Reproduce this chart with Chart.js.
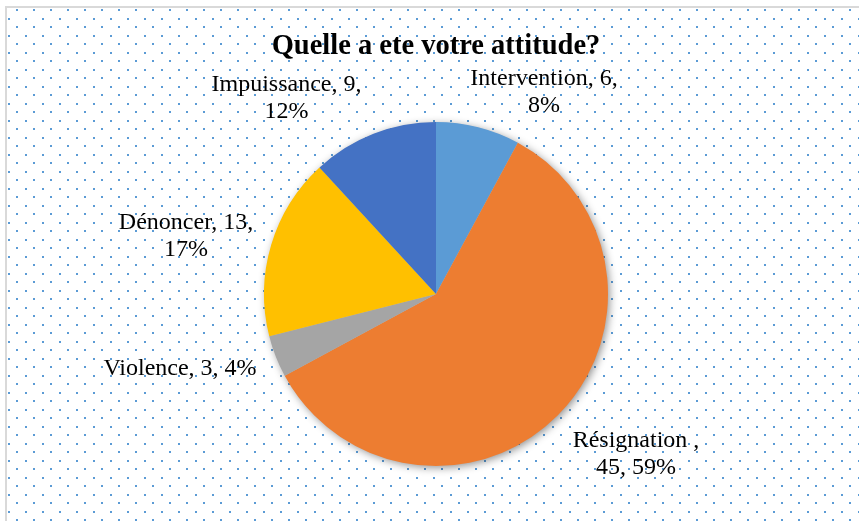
<!DOCTYPE html>
<html>
<head>
<meta charset="utf-8">
<script src="https://cdn.jsdelivr.net/npm/chart.js@4"></script>
<style>
  html, body { margin: 0; padding: 0; background: #ffffff; }
  canvas { display: block; }
</style>
</head>
<body>
<canvas id="c" width="859" height="521"></canvas>
<script>
// ---- data ----
const categories = ["Intervention", "Résignation ", "Violence", "Dénoncer", "Impuissance"];
const values = [6, 45, 3, 13, 9];
const sliceColors = ["#5B9BD5", "#ED7D31", "#A5A5A5", "#FFC000", "#4472C4"];
const titleText = "Quelle a ete votre attitude?";
// number of comma-separated parts on the first line of each label
const firstLineParts = [2, 1, 3, 2, 2];

// label placement (offset from pie centre, px): [dx, dy of first baseline]
const labelOffsets = [[108, -209], [200, 153], [-256, 81], [-250, -65], [-149.5, -203]];

const total = values.reduce((a, b) => a + b, 0);

const backgroundPlugin = {
  id: 'bgDots',
  beforeDraw(chart) {
    const ctx = chart.ctx;
    const W = chart.width, H = chart.height;
    ctx.save();
    ctx.fillStyle = '#ffffff';
    ctx.fillRect(0, 0, W, H);
    ctx.fillStyle = '#5b9bd5';
    let j = 0;
    for (let y = 10; y < H + 10; y += 8.5, j++) {
      const x0 = (j % 2 === 0) ? 17 : 8.5;
      for (let x = x0; x < W + 10; x += 17) {
        if (x < 8 || y < 9) continue;
        ctx.fillRect(Math.round(x) - 1, Math.round(y) - 1, 2, 2);
      }
    }
    ctx.strokeStyle = '#d9d9d9';
    ctx.lineWidth = 2;
    ctx.strokeRect(6, 7, W + 100, H + 100);
    ctx.restore();
  }
};

const shadowPlugin = {
  id: 'pieShadow',
  beforeDatasetsDraw(chart) {
    const arc = chart.getDatasetMeta(0).data[0];
    if (!arc) return;
    const ctx = chart.ctx;
    ctx.save();
    ctx.shadowColor = 'rgba(0,0,0,0.45)';
    ctx.shadowBlur = 9;
    ctx.shadowOffsetX = 2;
    ctx.shadowOffsetY = 2;
    ctx.fillStyle = '#bbbbbb';
    ctx.beginPath();
    ctx.arc(arc.x, arc.y, arc.outerRadius - 0.5, 0, Math.PI * 2);
    ctx.fill();
    ctx.restore();
  }
};

const labelPlugin = {
  id: 'sliceLabels',
  afterDatasetsDraw(chart) {
    const meta = chart.getDatasetMeta(0);
    const ctx = chart.ctx;
    ctx.save();
    ctx.font = '24px "Liberation Serif", "Times New Roman", serif';
    ctx.fillStyle = '#000000';
    ctx.textAlign = 'center';
    ctx.textBaseline = 'alphabetic';
    meta.data.forEach((arc, i) => {
      const pct = Math.round(values[i] / total * 100) + '%';
      const parts = [categories[i], String(values[i]), pct];
      const n = firstLineParts[i];
      const l1 = parts.slice(0, n).join(', ') + (n < 3 ? ',' : '');
      const l2 = parts.slice(n).join(', ');
      const x = arc.x + labelOffsets[i][0];
      const y = arc.y + labelOffsets[i][1];
      ctx.fillText(l1, x, y);
      if (l2) ctx.fillText(l2, x, y + 26.5);
    });
    ctx.restore();
  }
};

new Chart(document.getElementById('c'), {
  type: 'pie',
  data: {
    labels: categories,
    datasets: [{
      data: values,
      backgroundColor: sliceColors,
      borderWidth: 0,
      hoverOffset: 0
    }]
  },
  options: {
    responsive: false,
    animation: false,
    devicePixelRatio: 1,
    layout: { padding: { top: 10, left: 264, right: 251, bottom: 55 } },
    plugins: {
      legend: { display: false },
      tooltip: { enabled: false },
      title: {
        display: true,
        text: titleText,
        color: '#000000',
        font: { family: '"Liberation Serif", "Times New Roman", serif', size: 28.5, weight: 'bold', lineHeight: 1.2 },
        padding: { top: 20, bottom: 57.8 }
      }
    }
  },
  plugins: [backgroundPlugin, shadowPlugin, labelPlugin]
});
</script>
</body>
</html>
